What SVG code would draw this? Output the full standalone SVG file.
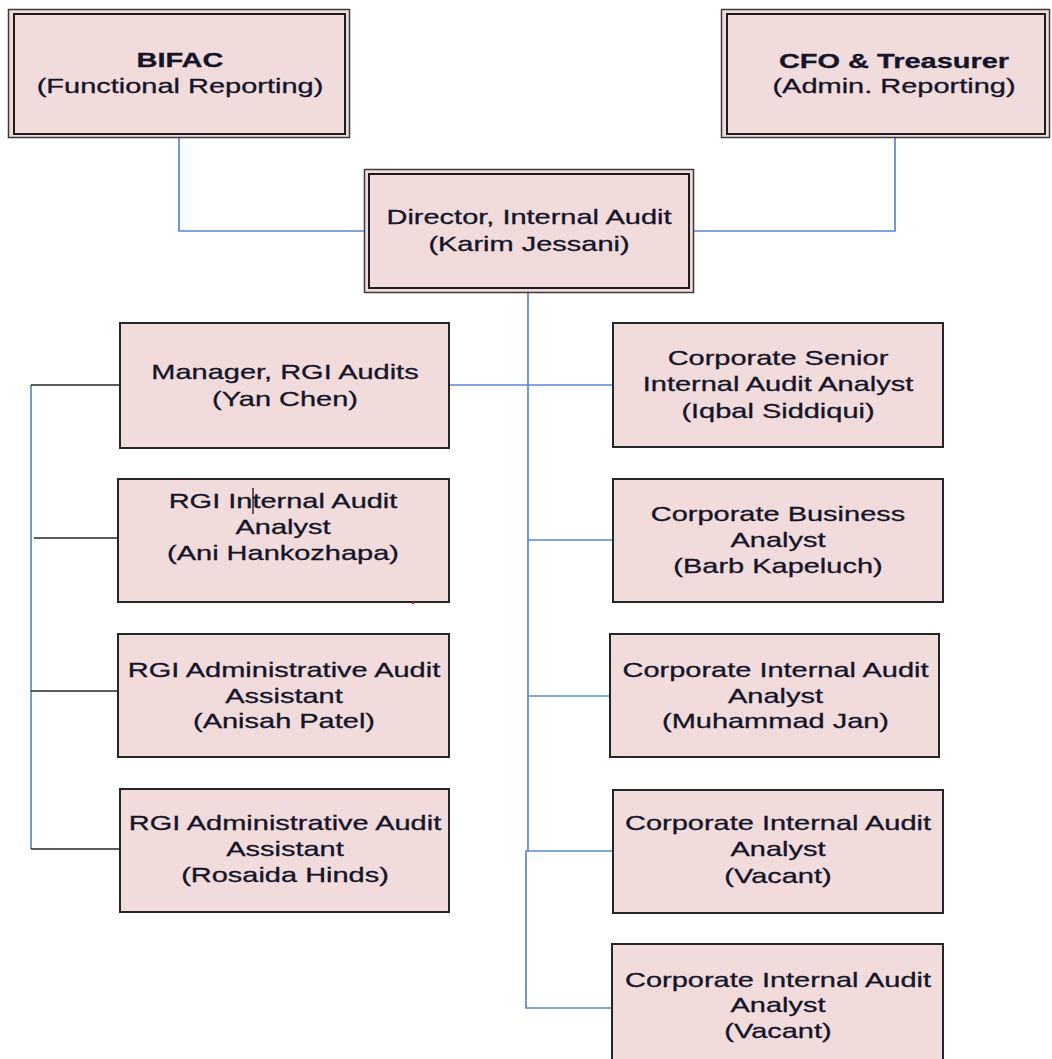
<svg xmlns="http://www.w3.org/2000/svg" width="1052" height="1059" viewBox="0 0 1052 1059">
<style>
.bg{fill:#ffffff}
.box{fill:#f2dcdb;stroke:#262626;stroke-width:2}
.outer{fill:#f2dcdb;stroke:#3a3a3a;stroke-width:1.5}
.inner{fill:#f2dcdb;stroke:#1e1e1e;stroke-width:2}
.blue{fill:none;stroke:#5b87cc;stroke-width:1.7}
.black{fill:none;stroke:#262626;stroke-width:1.5}
text{font-family:"Liberation Sans",Arial,sans-serif;font-size:21px;fill:#14142a;stroke:#14142a;stroke-width:0.3;text-anchor:middle}
.b{font-weight:bold}
</style>
<rect class="bg" x="0" y="0" width="1052" height="1059"/>

<g id="connectors">
  <polyline class="blue" points="179,138 179,231 366,231"/>
  <polyline class="blue" points="895,138 895,231 694,231"/>
  <line class="blue" x1="528" y1="293" x2="528" y2="851"/>
  <polyline class="blue" points="528,851 526,851 526,1008 613,1008"/>
  <line class="blue" x1="449" y1="385" x2="613" y2="385"/>
  <line class="blue" x1="528" y1="540" x2="613" y2="540"/>
  <line class="blue" x1="528" y1="696" x2="610" y2="696"/>
  <line class="blue" x1="528" y1="851" x2="613" y2="851"/>
  <line class="blue" x1="31" y1="385" x2="31" y2="849"/>
  <line class="black" x1="31" y1="385" x2="120" y2="385"/>
  <line class="black" x1="34" y1="538" x2="123" y2="538"/>
  <line class="black" x1="31" y1="691" x2="123" y2="691"/>
  <line class="black" x1="31" y1="849" x2="120" y2="849"/>
</g>

<g id="bifac">
  <rect class="outer" x="8.5" y="9.5" width="341" height="128"/>
  <rect class="inner" x="14" y="14" width="331" height="120"/>
  <g transform="translate(180 0) scale(1.38 1)">
    <text class="b" x="0" y="67">BIFAC</text>
    <text x="0" y="93">(Functional Reporting)</text>
  </g>
</g>

<g id="cfo">
  <rect class="outer" x="721.5" y="9.5" width="328" height="128"/>
  <rect class="inner" x="727" y="14" width="318" height="120"/>
  <g transform="translate(894 0) scale(1.38 1)">
    <text class="b" x="0" y="68">CFO &amp; Treasurer</text>
    <text x="0" y="93">(Admin. Reporting)</text>
  </g>
</g>

<g id="director">
  <rect class="outer" x="364.5" y="169.5" width="329" height="123"/>
  <rect class="inner" x="369" y="174" width="320" height="114"/>
  <g transform="translate(529 0) scale(1.38 1)">
    <text x="0" y="224">Director, Internal Audit</text>
    <text x="0" y="251">(Karim Jessani)</text>
  </g>
</g>

<g id="manager">
  <rect class="box" x="120" y="323" width="329" height="125"/>
  <g transform="translate(285 0) scale(1.38 1)">
    <text x="0" y="379">Manager, RGI Audits</text>
    <text x="0" y="406">(Yan Chen)</text>
  </g>
</g>

<g id="rgi-analyst">
  <rect class="box" x="118" y="479" width="331" height="123"/>
  <g transform="translate(283 0) scale(1.38 1)">
    <text x="0" y="508">RGI Internal Audit</text>
    <text x="0" y="534">Analyst</text>
    <text x="0" y="560">(Ani Hankozhapa)</text>
  </g>
  <line x1="253" y1="488" x2="253" y2="514" stroke="#111" stroke-width="1.3"/>
  <circle cx="413" cy="603" r="1.2" fill="#e02020"/>
</g>

<g id="rgi-admin-1">
  <rect class="box" x="118" y="634" width="331" height="123"/>
  <g transform="translate(284 0) scale(1.38 1)">
    <text x="0" y="677">RGI Administrative Audit</text>
    <text x="0" y="703">Assistant</text>
    <text x="0" y="728">(Anisah Patel)</text>
  </g>
</g>

<g id="rgi-admin-2">
  <rect class="box" x="120" y="789" width="329" height="123"/>
  <g transform="translate(285 0) scale(1.38 1)">
    <text x="0" y="830">RGI Administrative Audit</text>
    <text x="0" y="856">Assistant</text>
    <text x="0" y="882">(Rosaida Hinds)</text>
  </g>
</g>

<g id="corp-senior">
  <rect class="box" x="613" y="323" width="330" height="124"/>
  <g transform="translate(778 0) scale(1.38 1)">
    <text x="0" y="365">Corporate Senior</text>
    <text x="0" y="391">Internal Audit Analyst</text>
    <text x="0" y="418">(Iqbal Siddiqui)</text>
  </g>
</g>

<g id="corp-business">
  <rect class="box" x="613" y="479" width="330" height="123"/>
  <g transform="translate(778 0) scale(1.38 1)">
    <text x="0" y="521">Corporate Business</text>
    <text x="0" y="547">Analyst</text>
    <text x="0" y="573">(Barb Kapeluch)</text>
  </g>
</g>

<g id="corp-analyst-jan">
  <rect class="box" x="610" y="634" width="329" height="123"/>
  <g transform="translate(775.5 0) scale(1.38 1)">
    <text x="0" y="677">Corporate Internal Audit</text>
    <text x="0" y="703">Analyst</text>
    <text x="0" y="728">(Muhammad Jan)</text>
  </g>
</g>

<g id="corp-analyst-vacant-1">
  <rect class="box" x="613" y="790" width="330" height="123"/>
  <g transform="translate(778 0) scale(1.38 1)">
    <text x="0" y="830">Corporate Internal Audit</text>
    <text x="0" y="856">Analyst</text>
    <text x="0" y="883">(Vacant)</text>
  </g>
</g>

<g id="corp-analyst-vacant-2">
  <rect class="box" x="612" y="944" width="331" height="130"/>
  <g transform="translate(778 0) scale(1.38 1)">
    <text x="0" y="987">Corporate Internal Audit</text>
    <text x="0" y="1012">Analyst</text>
    <text x="0" y="1038">(Vacant)</text>
  </g>
</g>
</svg>
